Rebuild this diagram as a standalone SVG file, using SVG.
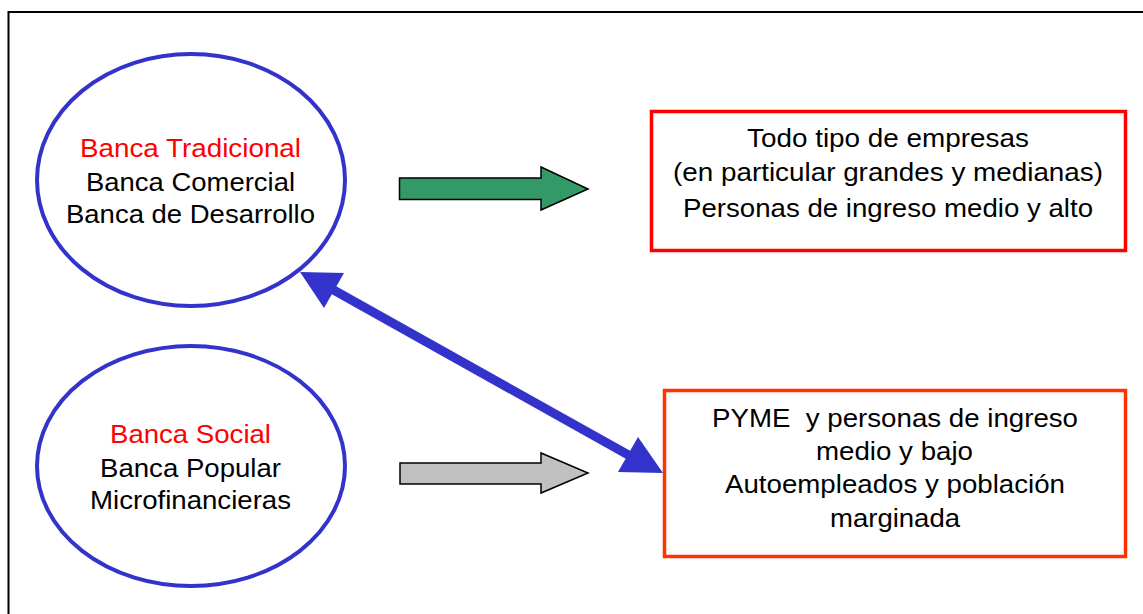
<svg xmlns="http://www.w3.org/2000/svg" width="1143" height="614" viewBox="0 0 1143 614">
<style>
text{font-family:"Liberation Sans",Arial,sans-serif;font-size:25.5px;fill:#000;text-anchor:middle}
.red{fill:#ff0000}
.ell{fill:#fff;stroke:#3333cc;stroke-width:4}
.box{fill:#fff;stroke-width:3.5}
.blk{stroke:#000;stroke-width:1.5;stroke-linejoin:miter}
</style>
<rect width="1143" height="614" fill="#fff"/>
<path d="M8.5,614 V12 H1143" fill="none" stroke="#000" stroke-width="2"/>
<g id="node-tradicional">
<ellipse class="ell" cx="191" cy="180" rx="154" ry="126"/>
<text class="red" x="190.5" y="157" textLength="221" lengthAdjust="spacingAndGlyphs">Banca Tradicional</text>
<text x="190.5" y="191" textLength="209" lengthAdjust="spacingAndGlyphs">Banca Comercial</text>
<text x="190.5" y="223" textLength="249" lengthAdjust="spacingAndGlyphs">Banca de Desarrollo</text>
</g>
<g id="node-social">
<ellipse class="ell" cx="191" cy="466" rx="154" ry="120"/>
<text class="red" x="190.5" y="443" textLength="161" lengthAdjust="spacingAndGlyphs">Banca Social</text>
<text x="190.5" y="477" textLength="181" lengthAdjust="spacingAndGlyphs">Banca Popular</text>
<text x="190.5" y="509" textLength="201" lengthAdjust="spacingAndGlyphs">Microfinancieras</text>
</g>
<g id="node-empresas">
<rect class="box" x="651.5" y="111.5" width="474" height="139" stroke="#ff0000"/>
<text x="888" y="147" textLength="282" lengthAdjust="spacingAndGlyphs">Todo tipo de empresas</text>
<text x="888" y="181" textLength="430" lengthAdjust="spacingAndGlyphs">(en particular grandes y medianas)</text>
<text x="888" y="217" textLength="410" lengthAdjust="spacingAndGlyphs">Personas de ingreso medio y alto</text>
</g>
<g id="node-pyme">
<rect class="box" x="664.5" y="390.5" width="461" height="166" stroke="#ff3300"/>
<text x="895" y="427" textLength="366" lengthAdjust="spacingAndGlyphs">PYME&#160; y personas de ingreso</text>
<text x="894.5" y="460" textLength="157" lengthAdjust="spacingAndGlyphs">medio y bajo</text>
<text x="895" y="493" textLength="340" lengthAdjust="spacingAndGlyphs">Autoempleados y población</text>
<text x="895" y="527" textLength="130" lengthAdjust="spacingAndGlyphs">marginada</text>
</g>
<g id="connectors">
<polygon class="blk" fill="#339966" points="399.5,178 541,178 541,167 588,189 541,210 541,199.5 399.5,199.5"/>
<polygon class="blk" fill="#c0c0c0" points="400,463 541,463 541,453 588,473 541,493 541,484 400,484"/>
<line x1="330" y1="288" x2="632" y2="457" stroke="#3333cc" stroke-width="9"/>
<polygon fill="#3333cc" points="300,272 344,273 324,308"/>
<polygon fill="#3333cc" points="663,473 638,437 618,472"/>
</g>
</svg>
